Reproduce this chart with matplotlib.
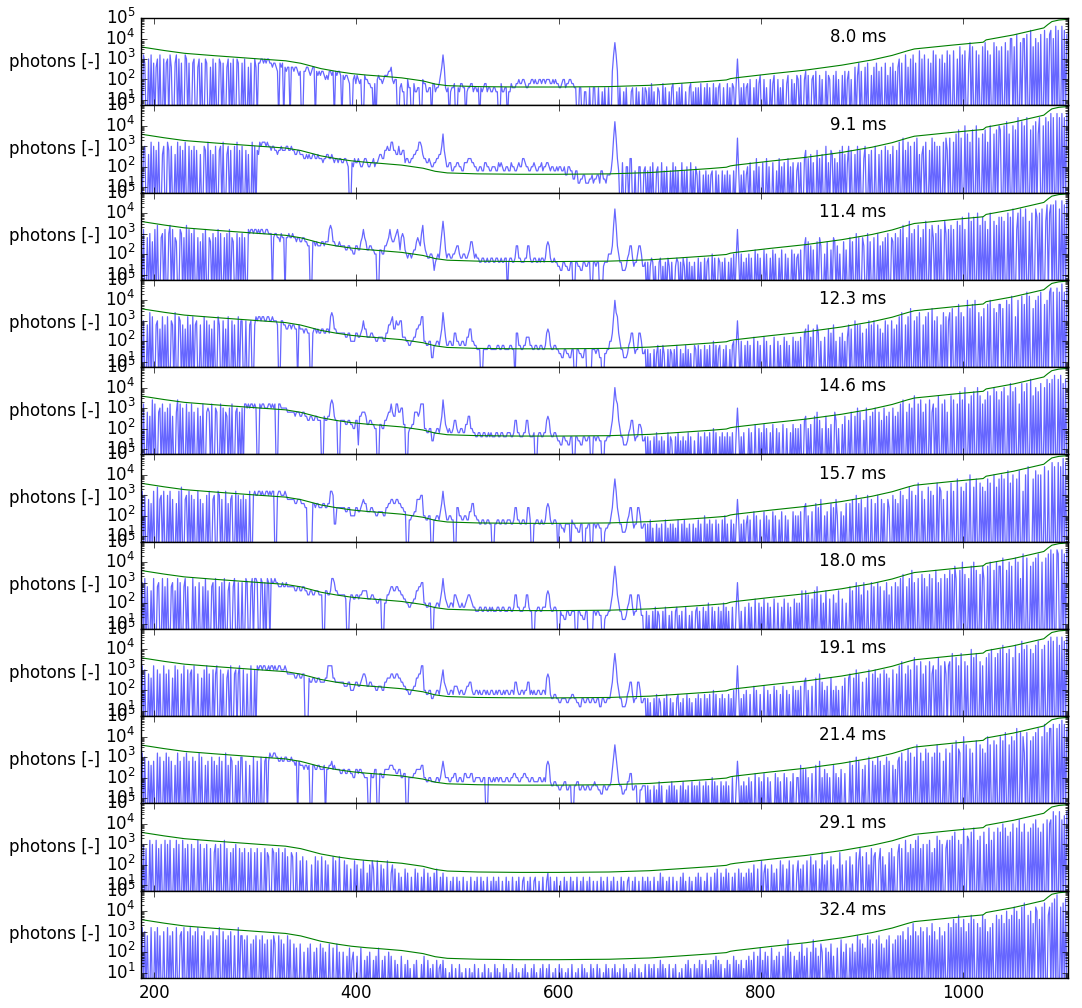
import numpy as np
import matplotlib
matplotlib.use("Agg")
import matplotlib.pyplot as plt

plt.style.use("classic")

# ---------------------------------------------------------------- data
# wavelength segments (nm); each text segment samples its span evenly
SEG_EDGES = [187, 237, 287, 337, 387, 437, 487, 537, 587, 637, 687, 737, 787,
             837, 887, 937, 987, 1037, 1087, 1104]
XLIM = (187, 1104)
YLIM = (10 ** 0.74, 1e5)
XTICKS = [200, 400, 600, 800, 1000]

EXPOSURES_MS = [8.0, 9.1, 11.4, 12.3, 14.6, 15.7, 18.0, 19.1, 21.4, 29.1, 32.4]

# saturation / reference envelope (green line)
ENV_WL = [187, 190, 210, 230, 260, 305, 330, 345, 355, 365, 380, 395, 410, 425,
          445, 466, 478, 490, 520, 560, 600, 650, 690, 720, 750, 766, 770, 775,
          810, 845, 880, 910, 930, 945, 952, 990, 1020, 1023, 1050, 1080, 1084,
          1088, 1095, 1104]
ENV_VAL = [3900, 3700, 2600, 1900, 1450, 1000, 820, 620, 460, 340, 250, 195, 165,
           145, 120, 85, 60, 50, 45, 43, 43, 45, 52, 65, 82, 95, 110, 120, 190,
           290, 500, 900, 1500, 2500, 3100, 4800, 6600, 8600, 15000, 33000,
           48000, 67000, 80000, 87000]

# measured photons, one letter per sample: letter index n -> 10**(0.2*n)
# ('a' = 1 photon, below the axis; 'f' = 10; 'k' = 100; 'p' = 1e3; 'u' = 1e4)
SPEC_08_0 = (
    "paqoaapaqaoanpaqaapaopaqnaaoqapaoaaqpaoa",
    "aopaanpaoaapoaanapaoaapoaoaanpaoapaapoaa",
    "oapaanaoaapnaooppopoppoonoonmaonoanmnnan",
    "nmnnmlmaammnnmlmnnamlmlmmlklkmmlmamlmmla",
    "lkllkjaakljlkjkaalkkjjiiajaklkkjklllmmnk",
    "jkkaaijhhaakiiaajhhiiaakjjhhiiajjhiijlnq",
    "nihiahiijaaihjjiiahiijjhiihiaihijjhiihhi",
    "ihhaajhhiiahhjiiijjkjjkkjiijjkkjkjjkkjkk",
    "jkkkjjkjkjjiijkkijjkkjjiiaaiiaahhaaiaaii",
    "aaiaahaiaaiaamqtqmaiaahaiaaahiaaiahaaiai",
    "haiajahaaihaajaiaahaijaahaiajaahaaijahai",
    "aiajaaiajaiaajaiaijaaiaajaiajiajpjaiajai",
    "jakaaiakajlaakaiaakajlaakaiakaajlaakajal",
    "kalaakmalaaklamaalakaamalkaalamakaalamak",
    "makaanaloamaanaoaalanaoamanaaoalanaoaman",
    "paoaaqanapaqaoaarapaqaapaoaraqaapaqaoara",
    "qaaraapasaqaraaotasaaraqaasataraqaatasar",
    "asaatarauuasavaatauuavaawasauatavaawauav",
    "wauaxawaaxawav",
)
SPEC_09_1 = (
    "qaopaanaqapaoaqaanpaaqoapaanaqapaoaqaapa",
    "oapaoaanaapoaqaoanapaaopaqaanpaoaapaqaoa",
    "paaoanaaqapaonqpqqqpqppoppoonoopoooppoop",
    "oonnoonnnmmnmnmmnnmmnmmmlmmnnmmnmlmmlmml",
    "lmmlkaalkmllmlkklmmlkkllmkllmnnmmoopooqq",
    "oonnpnnoolmmllmmnnooqqpnmmllmlkkllmmnnps",
    "omkklljjkkllkkjjlllmmmllkkjjkkjjllkkjjkk",
    "kjjlklkjjkkjjlkkjjklkkmmlkkjjkklkjjkkljk",
    "kllkjkkjjkjkkjjkiikkjjhhjjgghhiiggghhigh",
    "hiigjjhhgiiijmrvrmjaalaakkammaajaakkaajk",
    "ajakalaajkaalajakaajalakajaalajakaalajak",
    "iajaaiajaiaijaajaiaajaiajaiaajajrjaiajai",
    "kalaajamakaalaamakaalaajamakalaamakalaaj",
    "lalaamoamanalaaoamanaapalaonamalaoapanal",
    "paoaanapaoaampaanaoaapaanaoaapaoanapaaoa",
    "qaaraoaqapaaqarananpaqaaoaraqapapaaqaroa",
    "raaqasataraauasaqataauaraasataqauaasatau",
    "taauavasaauatawaavauawaatauavaswaauawava",
    "xawaaxawaxawax",
)
SPEC_11_4 = (
    "raqaaoapanaqaraaopaqaapraqaonaaqpaoaraqa",
    "paqaaoanapaqaaonapaoaqapaaoapaqaonaapaoa",
    "paoaaqpqqpqqpqpqqppqqpppaoppoonpooaoopoo",
    "poonoonnoonnmmaannmnmmmnnmnnnqrqnnmmmnmm",
    "mmllmmllkkmmllnoqonllmmllkkaallkkmmnoqon",
    "nopqolopolkjkkjkllnonmprnlkjjkkjgijkjmps",
    "pljkkjjkklmmkjjkkjjklnnljkjjiijjiijiijji",
    "ijjiijiijjaijjiijmmjjiiijjmmjiijjiijijji",
    "jmnmjiijiihhggiihhggiiaaiihhggiihhiiaaii",
    "hiiaaahiiikkkmrvrmkiiggghjkmmjhiikmmkhhi",
    "aiahjiahaaijahaiajhaiaahjiaiajhajaiahaia",
    "ajaiaajaijaakajaajiaiajaaiajakajqjakaiaj",
    "akajaalakajaalakaajalakaajalaakajaalakaj",
    "kalaamoanamalaanaomaakanaalaonamakaanala",
    "aoanaapaoaaomaapanaaoaapamanaoapaaonapao",
    "aqaraaoasapaqaaraoaqasaaqaroaparaqaaspaq",
    "araqaasarataqaauasataauaratasaqauaasarat",
    "atasaauatavaaquavatavaasauaavtauavaaswau",
    "wawaxaavaxawax",
)
SPEC_12_3 = (
    "qapaaoaraqaaopanaqaoaqaapoaraaqpaoanaqao",
    "aqaopaaoaaqapaoanapaaqoaapanaqaapaoaaqap",
    "paapaaopaaoqpqqpqqppqqppqpppoaappoonnoon",
    "oonnaonnnmnnmmaamnnmnmmnnmmnnmqrqnnmmmmm",
    "mmllmmkkkkmmllmnpnnlllmmllkkllllkkmmoopq",
    "nnpoopplllkkjjkkllnnooqqkkjjkkggjjkkjlnr",
    "oljjkkjjmmkkjjkkjjllnnkkjjiiiaaiiiijjiii",
    "iijjiijjiiiijjiiammjjiijjllljjiijjiijjii",
    "jmnmjiijjiihhggiihhggiiaaiihhggiiaaaaiii",
    "hiiggaahhiikkmqurqmkiiggghjkmmjhiimmkhhi",
    "aiahaaiahjaiajhaaiaihaiajaaiahajaiahaaji",
    "ajaiaajaiajaakajaijaaiajaaiajkajpjakaaja",
    "kajaalaakajaalakaajaalaakajaalakajaalaka",
    "kalaamnaoalanaaomakaalaanamaoakaalamakal",
    "oanaapaoaoamaanapaoapaaoanamapaoaapanaoa",
    "qaraaoaqasaapaqaraaoaqaraasapaqaaoaraqap",
    "rasaaqataraqaauasatauaaraqasaatauaasarat",
    "tasaauatavaaqauaavatawavaasauavawaatauaw",
    "xawaaxawayawax",
)
SPEC_14_6 = (
    "paqaaoanaraqaaopaqaoapaqanaaoraqapaaqaoa",
    "qaoaapanaqaaopoaqaapoaaqapaonapaqaaopaoa",
    "paqqpqpqqpqpaaqpqqpppqqpqpqaaqqpppppoooo",
    "oonooonnoonnmmnnmmnnmmmaanmmnnqrqnmmaamm",
    "mmllmmllkkmmgnnooonllmmllkkaallkkmmnooqo",
    "nnqqooppllaajkkllooonoqqqkkjjkkhhjjkkjlnr",
    "olkjkjjkmmkjjkkjjllnnkkjjiijjiijjiijijii",
    "ijjiijjiiijjjiijmmjjiiijjmmjiiijaaijjiij",
    "jmnmjiijjihhggiihhggiiaaiihhggiihhiiaaii",
    "hiihhaahhiiikmqurqmkiiggghjkmmjhiillkhhi",
    "aiahaaiajahaiahaajaihaaiajahaiahajaiaaha",
    "ajaiaajaiajaakajaaiajaiajaiajaajpjaiajaa",
    "akajaalaakajalakaajalaakajaalaakaajalaka",
    "kalaamnakalaanaoamakaanakalaaomakaalanaa",
    "maoaanapaoaamapaanaoapaaoamapanaoaapanao",
    "aqaraaoaqapasaaqaraoaqaaraoqapasaaqaraoa",
    "asaraaqatarauaaqasataauasaqaratasaauatar",
    "atauaasavatauaaqavatavaawasauatavaauawav",
    "awaxaawaxavawa",
)
SPEC_15_7 = (
    "aqapaaoanaqaaraopaqaapaqaoaanaqaraaopaqa",
    "paoaaqaoanaapaqaaopaaqpaoaaqanaopaaqapao",
    "apaoaaqaapqppqqpqppqqpqpqqaapqqpppqpoooo",
    "oonnooonnnmmaaaannmnnmmmnnmmnnqqpiimmmmm",
    "mmllmmkkkkmmllmnonnlllmmllkkllllkkmmnnoo",
    "nnoonnmmllaajjkklloooppkkjjkkaajjkkjlnq",
    "nljjkkjjaammkkjjkkjjllnnkkjjiijjiijjiiaa",
    "iijjiijjiijjjiijmmjjiijjiimmjaaiijjiijii",
    "jmnmjiijjiaiihhgiiiiajiihhggiiaahhiiaaii",
    "hiihhaaghhiikmqtqmkiiggghjkmmjhiimmkhhii",
    "aiajahaaiahaiaajahaiaiahajaaiajahaiaaiah",
    "ajaiaakaiajaiaajaiaajakaiaajaiaiojaiajai",
    "kajaalakaajaalakajaalakaajalaakajaaalaka",
    "kalaamnakaalaanamaoaakalaanamaokaalakana",
    "anaoaapanaoaamapaaoaanapaaoanaaomaapaoan",
    "aqapaaoaraqaapasaaqaoaaraqapaasarqaoaaqa",
    "asaqaataaraqasaauaarataasaraqatasaauarat",
    "auataavasauaatavaaqauawaaatavauauaawaava",
    "axawaaxawayaxa",
)
SPEC_18_0 = (
    "apaqaoaanaqaaopaaqaoaqaaopanaqapaaoqaoaa",
    "aqaoaapaaoaqanaaopaqaaoapaqaanpaaoqaapaa",
    "paaqpaaoqaqqpaaqpapaqpaqppqppooopoopoooo",
    "oonnoonnoonnmmnnmmnnnmmmaannmmnqqpnnmmmm",
    "mmlaakmmllmmlmmnnnnlllmmllkkllaakkmmnoo",
    "nnoonnmmllkkjjkkllnnooppkkjjkkaajjkkjlnq",
    "nlkjjkkjmmlkjjkjjklmmlkjjiiijjiijjiijiji",
    "iijjiijjiiijjiijmmjjiiijjmmjiiaaiijjiijj",
    "jmnmjiijjiaaihhggiihhiiiaaiihhggiiaaaaii",
    "hiihhaaghhiikmqtqmkiiggghjkmmjhiimmkhhaa",
    "iahaaiajaihaaiajaahaiaaijahaiaajaahaiaai",
    "jaiaajaiakaajaiaajaiakajaiaajaajpjaiaaja",
    "akajaalaakajalaakajaalaakaajalaakajaalak",
    "akanaanamaalanaoaamakanaalaamakanaalaaka",
    "aoanaapaoamapaanaapaoaapaoaanapamaoaapao",
    "aqaraaoaqasapaaqaaraqaoaraqaasapaqaaraqa",
    "saratqaasauaraaqatauasaaratqaatauaasauat",
    "tavaasauataavauaqawaavaatauavawaauaavawa",
    "xawaaxwaaxawax",
)
SPEC_19_1 = (
    "aqapaaoanaqaapaoaaqaoapaanaqapaaoaqaapao",
    "paqaaoaanapaqaoaapaoqaapaoaanpaqaaopaoqa",
    "apaaoaaqaapaqpqqpqqppqpqqpqppqqpppqpoooo",
    "oonnoonnooaaanmmnnmmnnmmmmnnqqqqnnmmmmmm",
    "mlllmmkkklmmllmnoonllmmlllkklllkkmmnnnoo",
    "nnoonnmmllkkjjkkllnnooqqkkjjkkiijjkkjlnp",
    "mlkjjkkjlllkjkkjjkllmmkjjkkjkjjkkjkjjkkj",
    "jkjkkjjkjkkjjkkjmmkjjkkjkkmmjkjkjjkkjjkk",
    "jnonjiijjiihhiiiihhiijjiihhggiihhiihhiih",
    "hiiggiihhiiikmqtqmkiiggghjkmmjhiimmkhhii",
    "aiahaaiajaihaaiajaaiahaaijahaiaajaiahaai",
    "ajaiaajaiajaakajaaiajaiaajaiakajqjaiajak",
    "aajaalakaajaalaakajaalakaajalaakajaalaka",
    "kalaamnakaalaanaaoamakalaanakalakaalanaa",
    "noaanapaoaamaanapaaoapanaoaapaoanaapaaoa",
    "qaraaoaqapaasaqaaraoaqaaraoqapasaqaaroaq",
    "rataasaqataaraqaauasataaraqaasatauaasata",
    "uavaatauaasavaatawauavaauatavawaauavaawa",
    "xawaaxavaxawax",
)
SPEC_21_4 = (
    "aqapaaoanaoaaqapaaoaqapaoaanaqaoaapaqaoa",
    "apaoaaqapaanaoaapaoanapaoaaqanapoaanaoap",
    "paaoaanaapaaoaapaaopaoqppqqppoopooppooop",
    "oonoaonnnmnnmnaannmmnnmmmnammnnomnmmmmll",
    "mmllmmllkkmmlmmllkkkaalkkmmaallkkmmmmnnn",
    "mmllmmkkllaakkkkllmmmmnnkkjjkkjjjjkkjkmo",
    "mkkkjjkklljjkkjjllkkklljjkkkkjjkkaakkjjk",
    "jkkjkkjjjkkjjkkllkkjjkkllkkjjkkjjjjkkjjk",
    "jnonjiijjiihhiijjhhiiaaiijjhhiihhiihhiij",
    "iihhggiihhiijmpspmjiigghhjjllhhiiaahhiii",
    "aiahaaiahajaiaaahaiajaiahaaiajahaiaajaia",
    "iajaaiajaiaakajaiaajaiajaiaakaaiojaiajai",
    "akajaalaakajalaakajaaalakajaalakaajalaak",
    "kanamamakaalaanaaoakamalakaanalakamaalaa",
    "aoanaapaoaamanaapaaoanapaoaanapaoaanamao",
    "paqaaoaraqaapasaaqaoaraqaapaqasaqaaoaraa",
    "qasaatarqaauasaaraqaataasaraqauasaatasaa",
    "uatavaasauatawaavauqavaatauavawaauaxavaw",
    "waxaawaxayaxaw",
)
SPEC_29_1 = (
    "qapaoaaqapaaqaoapaaqapaqaaoaqapaaqaoapaa",
    "paoaaqapaaoapaaoaanpaoapaaqaoaanaoapaaoa",
    "naoaanaoaanaoaanaaoanmaaonanaoaanaoamaan",
    "maanaalamaalaaakaamalaamaalakaaamalaamaa",
    "alakaajaalakaajalaaiakaljaalaakajaalaaik",
    "ajaaiahaajaiaahaajaiaahajaaiahaaiajaahai",
    "aahaagahaahagaahaagaahaagahaahagaahaagah",
    "agahaagaahagaahaagahaaghaagahaaghaagaaha",
    "agiahaagahaagaahagaahagaahaagahaagahaaga",
    "agaahagaahaagahaagaahagaaghaagahaagaahag",
    "ahagaahaagaiahaagahaahaagaahaiagaahagaah",
    "aiahaagaiaahaaiajaaiahajaiaahaiaajaiahai",
    "ajaiakaajaalaikajaakaiajaalakaajalaakaai",
    "lajakaalaamakalaajanakalaamakaajanakaala",
    "amakaanaloamaanakaoamnaaloamakaanaoamaan",
    "paoaaqanapaoaqaraoapaapaqanaoaraqapaaoqa",
    "qarasaaqapataarqasataaqaraasapataqasaata",
    "sauatarasauaatavasauaasatauavatasauaavau",
    "vaxawaaxavawax",
)
SPEC_32_4 = (
    "aqapaoaaqaapaqaoaapaaqaoapaaqaaopaqaapaq",
    "aoapaqaaoapaanaoapaaoaqaapanaoapaaoaaqao",
    "oanaoaamanaoaanaoamanaanaomaaoanamaaoana",
    "amalaamaakaalamaakalaamalakaamaalaamakaa",
    "kaajalaikaajaalaaiajakaaiajalaaiajaakaja",
    "aiahaajaahaiagaahaiaaahajaaiagahaaiaghai",
    "agaafahaagaahafaagaagafahaagaafahaagafaa",
    "hagafaahagaafahaagafaagahafaagahafaagaha",
    "agahaafagaahagaafagaahaafagaahagafaahaga",
    "ahagaafahagaagahafagaahagaafagahaagafaah",
    "aahagahaagaiahagaahaagahaafagaahaiagaaha",
    "gaiahaaiagahaiajaiahaagaiahaajaiahaiagai",
    "ajaiakaajalaiakajaalaiajakaajalanakaajai",
    "akamajalaakanalajamkaalakamajaalaanakama",
    "alamakaoanamalaoanamaanaoamalanaoaamanao",
    "aoapanaqaoarapaoaqapaaqaoarapanaqaoapaar",
    "aqasarataqasaparatasaaraqatasapaqaraatas",
    "atarauasatavauasavawaatauaravuasavawaatv",
    "awaxayaavawaxa",
)
SPECTRA = [SPEC_08_0, SPEC_09_1, SPEC_11_4, SPEC_12_3, SPEC_14_6, SPEC_15_7,
           SPEC_18_0, SPEC_19_1, SPEC_21_4, SPEC_29_1, SPEC_32_4]


def decode(segments):
    xs, ys = [], []
    for j, seg in enumerate(segments):
        lo, hi = SEG_EDGES[j], SEG_EDGES[j + 1]
        step = (hi - lo) / len(seg)
        for i, ch in enumerate(seg):
            xs.append(lo + step * i)
            ys.append(10.0 ** (0.2 * (ord(ch) - ord("a"))))
    return np.array(xs), np.array(ys)


# ---------------------------------------------------------------- figure
fig, axes = plt.subplots(len(EXPOSURES_MS), 1, sharex=True,
                         figsize=(10.82, 10.08), dpi=100)
fig.subplots_adjust(left=0.1303, right=0.9871, top=0.9821, bottom=0.0298,
                    hspace=0)

for ax, ms, segs in zip(axes, EXPOSURES_MS, SPECTRA):
    x, y = decode(segs)
    ax.semilogy(x, y, color="b", lw=0.9, alpha=0.6)
    ax.semilogy(ENV_WL, ENV_VAL, color="g", lw=0.8)
    ax.set_xlim(*XLIM)
    ax.set_ylim(*YLIM)
    ax.set_xticks(XTICKS)
    ax.set_ylabel("photons [-]", rotation=0, ha="right", va="center",
                  fontsize=12)
    ax.yaxis.set_label_coords(-0.044, 0.5)
    ax.text(0.804, 0.78, f"{ms:.1f} ms", transform=ax.transAxes,
            ha="right", va="center", fontsize=12)
    ax.tick_params(labelsize=12)

fig.savefig("out.png", dpi=100, facecolor="white")
